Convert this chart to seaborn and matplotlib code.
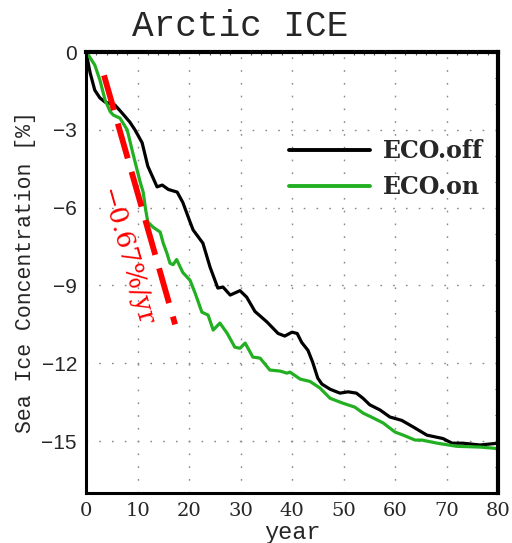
import numpy as np
import pandas as pd
import matplotlib
matplotlib.use("Agg")
import matplotlib.pyplot as plt
import seaborn as sns
from matplotlib.ticker import MultipleLocator

# ---- data ----
off_year = [0, 0.8, 1.7, 2.7, 3.7, 5.6, 7, 8.5, 9.5, 10.9, 12, 13.8, 14.8, 16, 17.7, 18.8,
            20.2, 20.8, 22.7, 24.1, 25.6, 26.6, 28, 29.9, 31.2, 32.8, 35.1, 37.3, 38.6, 40,
            41, 41.9, 43.1, 44, 45, 45.8, 47.4, 49.3, 50.9, 52.5, 53.8, 55.1, 57.1, 59,
            61.3, 63.5, 66.2, 69.3, 71.1, 73.2, 76.5, 80]
off_val = [0, -0.8, -1.47, -1.77, -1.93, -2.04, -2.35, -2.7, -3.0, -3.5, -4.4, -5.2, -5.13,
           -5.3, -5.4, -5.8, -6.55, -6.86, -7.37, -8.3, -9.1, -9.06, -9.37, -9.2, -9.45,
           -10.0, -10.4, -10.85, -10.95, -10.8, -10.85, -11.2, -11.5, -11.95, -12.57, -12.8,
           -13.0, -13.15, -13.1, -13.15, -13.35, -13.6, -13.8, -14.07, -14.2, -14.45,
           -14.77, -14.9, -15.08, -15.08, -15.15, -15.08]

on_year = [0, 0.4, 1.7, 2.7, 3.7, 4.7, 5.3, 6.6, 8, 9.1, 10.5, 11.1, 11.6, 12, 13, 14.4,
           15, 15.7, 16.3, 16.9, 17.6, 18.8, 20.2, 21.2, 22.5, 23.7, 24.7, 26, 27.4, 28.9,
           29.9, 30.9, 32.4, 33.8, 35.7, 37.7, 39, 39.6, 41.6, 43.5, 45.4, 47.4, 49.9, 52.2,
           53.8, 55.7, 57.7, 60, 61.6, 63.9, 65.2, 68.2, 72, 76.5, 79, 80]
on_val = [0, -0.1, -0.5, -1.08, -1.85, -2.3, -2.43, -2.55, -3.0, -3.9, -5.0, -5.4, -6.1,
          -6.55, -6.75, -6.94, -7.37, -7.75, -8.14, -8.2, -8.0, -8.5, -8.8, -9.3, -10.03,
          -10.14, -10.72, -10.45, -10.84, -11.38, -11.42, -11.22, -11.76, -11.8, -12.26,
          -12.3, -12.38, -12.34, -12.61, -12.7, -12.95, -13.35, -13.54, -13.69, -13.92,
          -14.1, -14.3, -14.65, -14.77, -14.96, -14.96, -15.08, -15.2, -15.23, -15.27, -15.3]

trend_year = [3.5, 17.3]
trend_val = [-0.9, -10.5]
trend_label = "\u22120.67%/yr"

series_names = ["ECO.off", "ECO.on"]
series_colors = ["#000000", "#22b022"]
x_ticks = [0, 10, 20, 30, 40, 50, 60, 70, 80]
y_ticks = [0, -3, -6, -9, -12, -15]

df = pd.concat([
    pd.DataFrame({"year": off_year, "val": off_val, "run": series_names[0]}),
    pd.DataFrame({"year": on_year, "val": on_val, "run": series_names[1]}),
], ignore_index=True)

sns.set_style("white")
plt.rcParams["font.family"] = ["DejaVu Sans"]

fig = plt.figure(figsize=(5.12, 5.43), dpi=100)
ax = fig.add_axes([86 / 512, 1 - 493 / 543, (498 - 86) / 512, (493 - 52) / 543])

# grid
for xv in x_ticks[1:-1]:
    ax.axvline(xv, color="#888888", lw=1.0, ls=(0, (1.2, 8)), zorder=0)
for yv in y_ticks[1:]:
    ax.axhline(yv, color="#888888", lw=1.0, ls=(0, (1.2, 8)), zorder=0)

sns.lineplot(data=df, x="year", y="val", hue="run", palette=series_colors,
             hue_order=series_names, linewidth=2.3, ax=ax, sort=False, legend=True)

ax.plot(trend_year, trend_val, color="red", lw=4.2, ls=(0, (6.2, 2.4)),
        solid_capstyle="butt", dash_capstyle="butt", zorder=5)
ax.text(7.7, -7.9, trend_label, color="red", rotation=-74, ha="center", va="center",
        fontsize=19, family="DejaVu Serif", rotation_mode="anchor")

ax.set_xlim(0, 80)
ax.set_ylim(-17, 0)
ax.set_xticks(x_ticks)
ax.set_xticklabels([str(v) for v in x_ticks], family="DejaVu Serif", fontsize=14)
ax.set_yticks(y_ticks)
ax.set_yticklabels([str(v).replace("-", "\u2212") for v in y_ticks],
                   family="Liberation Sans", fontsize=15)
ax.xaxis.set_minor_locator(MultipleLocator(2))
ax.yaxis.set_minor_locator(MultipleLocator(1))
ax.tick_params(axis="both", which="major", direction="out", length=5, width=1.5,
               color="black", pad=1.5)
ax.tick_params(axis="both", which="minor", direction="in", length=2.5, width=0.8,
               top=True, right=True, bottom=False, left=False, color="#555555")

for side in ["left", "bottom"]:
    ax.spines[side].set_linewidth(2.2)
for side in ["top", "right"]:
    ax.spines[side].set_linewidth(3.0)
for s in ax.spines.values():
    s.set_color("black")

ax.set_xlabel("year", family="Liberation Mono", fontsize=17, labelpad=1)
ax.set_ylabel("Sea Ice Concentration [%]", family="Liberation Mono", fontsize=15.5,
              labelpad=4)

leg = ax.legend(loc="upper left", bbox_to_anchor=(0.44, 0.85), frameon=False,
                handlelength=3.45, handletextpad=0.55, labelspacing=0.5,
                prop={"family": "DejaVu Serif", "weight": "bold", "size": 17})
for line in leg.get_lines():
    line.set_linewidth(2.8)

fig.text(240 / 512, 1 - 27 / 543, "Arctic ICE", family="Liberation Mono", fontsize=26,
         ha="center", va="center")

fig.savefig("out.png", dpi=100, facecolor="white")
